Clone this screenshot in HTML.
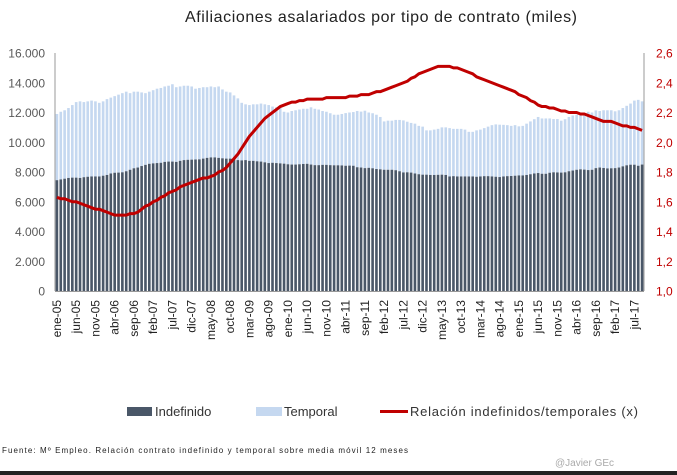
<!DOCTYPE html>
<html><head><meta charset="utf-8"><style>
html,body{margin:0;padding:0;background:#fff;}
svg{display:block;font-family:"Liberation Sans",sans-serif;}
</style></head><body>
<svg id="chart" width="677" height="475" viewBox="0 0 677 475">
<text x="381" y="22" text-anchor="middle" font-size="16" fill="#222" textLength="392">Afiliaciones asalariados por tipo de contrato (miles)</text>
<g id="bars"></g>
<g id="axes"></g>
<g id="line"></g>
<g>
<rect x="127" y="407" width="25" height="9" fill="#4a5768"/>
<text x="155" y="416" font-size="13" fill="#333">Indefinido</text>
<rect x="256" y="407" width="26" height="9" fill="#c5d8f0"/>
<text x="284" y="416" font-size="13" fill="#333">Temporal</text>
<line x1="380" y1="411.5" x2="408" y2="411.5" stroke="#c00000" stroke-width="3"/>
<text x="410" y="416" font-size="13" fill="#333" textLength="228">Relación indefinidos/temporales (x)</text>
</g>
<text x="2" y="453" font-size="8" fill="#222" textLength="406">Fuente:  Mº Empleo. Relación contrato indefinido  y temporal  sobre media móvil 12 meses</text>
<text x="555" y="466" font-size="10" fill="#aaa">@Javier GEc</text>
<rect x="0" y="471" width="677" height="4" fill="#222"/>
</svg>
<script>
const startYear = 2005;
const monthNames = ["ene","feb","mar","abr","may","jun","jul","ago","sep","oct","nov","dic"];
const indefinido = [
7450,7500,7550,7600,7620, 7620,7600,7650,7680,7700, 7700,7700,7750,7800,7900, 7950,7960,7980,8050,8150,
8250,8300,8400,8480,8550, 8580,8600,8620,8680,8700, 8700,8680,8750,8800,8820, 8830,8840,8850,8900,8950,
8980,8980,8950,8920,8900, 8900,8850,8800,8780,8800, 8750,8750,8720,8700,8650, 8600,8620,8600,8580,8560,
8520,8500,8500,8520,8540, 8550,8500,8460,8460,8480, 8480,8460,8450,8450,8440, 8420,8430,8420,8320,8300,
8260,8280,8250,8200,8180, 8150,8150,8150,8120,8050, 7970,7980,7960,7900,7850, 7820,7820,7800,7800,7810,
7820,7800,7700,7720,7700, 7700,7700,7700,7700,7680, 7700,7720,7720,7700,7680, 7660,7700,7720,7730,7750,
7770,7770,7800,7850,7900, 7930,7880,7880,7950,7980, 7970,7960,7980,8050,8100, 8150,8180,8160,8130,8150,
8260,8300,8270,8240,8250, 8260,8300,8380,8450,8490, 8490,8420,8500];
const total = [
11900,12050,12150,12300,12500, 12700,12750,12700,12750,12800, 12750,12650,12750,12900,13000, 13100,13200,13300,13400,13300,
13400,13400,13350,13300,13400, 13500,13600,13650,13750,13800, 13900,13700,13750,13800,13800, 13750,13600,13650,13700,13700,
13750,13700,13750,13550,13400, 13350,13150,12950,12650,12550, 12500,12550,12550,12600,12550, 12500,12400,12350,12300,12050,
12000,12100,12150,12200,12250, 12250,12350,12250,12200,12100, 12050,11950,11850,11850,11900, 11960,12000,12030,12100,12060,
12120,12000,11950,11850,11700, 11400,11450,11450,11500,11500, 11470,11380,11300,11250,11100, 11050,10800,10800,10850,10900,
11000,11000,10950,10900,10900, 10900,10850,10700,10700,10800, 10850,10950,11050,11150,11200, 11180,11170,11150,11100,11150,
11070,11100,11250,11400,11550, 11700,11600,11600,11600,11560, 11560,11450,11550,11700,11800, 11850,11950,11950,12050,12000,
12140,12100,12150,12150,12150, 12080,12150,12300,12450,12600, 12800,12850,12750];
const ratio = [
1.63,1.62,1.62,1.61,1.60, 1.60,1.59,1.58,1.57,1.56, 1.55,1.55,1.54,1.53,1.52, 1.51,1.51,1.51,1.51,1.52,
1.52,1.53,1.55,1.57,1.58, 1.60,1.61,1.63,1.64,1.66, 1.67,1.68,1.70,1.71,1.72, 1.73,1.74,1.75,1.76,1.76,
1.77,1.78,1.80,1.81,1.83, 1.86,1.89,1.92,1.96,2.00, 2.04,2.07,2.10,2.13,2.16, 2.18,2.20,2.22,2.24,2.25,
2.26,2.27,2.27,2.28,2.28, 2.29,2.29,2.29,2.29,2.29, 2.30,2.30,2.30,2.30,2.30, 2.30,2.31,2.31,2.31,2.32,
2.32,2.32,2.33,2.34,2.34, 2.35,2.36,2.37,2.38,2.39, 2.40,2.41,2.43,2.44,2.46, 2.47,2.48,2.49,2.50,2.51,
2.51,2.51,2.51,2.50,2.50, 2.49,2.48,2.47,2.46,2.44, 2.43,2.42,2.41,2.40,2.39, 2.38,2.37,2.36,2.35,2.34,
2.32,2.31,2.30,2.28,2.27, 2.25,2.24,2.24,2.23,2.23, 2.22,2.21,2.21,2.20,2.20, 2.20,2.19,2.19,2.18,2.17,
2.16,2.15,2.14,2.14,2.14, 2.13,2.12,2.11,2.11,2.10, 2.10,2.09,2.08];
const leftTicks = [0,2000,4000,6000,8000,10000,12000,14000,16000];
const leftTickLabels = ["0","2.000","4.000","6.000","8.000","10.000","12.000","14.000","16.000"];
const rightTicks = [1.0,1.2,1.4,1.6,1.8,2.0,2.2,2.4,2.6];
const rightTickLabels = ["1,0","1,2","1,4","1,6","1,8","2,0","2,2","2,4","2,6"];

const NS = "http://www.w3.org/2000/svg";
const X0 = 55, X1 = 644, Y0 = 291, YT = 53;
const n = indefinido.length;
const slot = (X1 - X0) / n;
function xc(i){ return X0 + slot * (i + 0.5); }
function yL(v){ return Y0 - (v / 16000) * (Y0 - YT); }
function yR(v){ return Y0 - ((v - 1.0) / 1.6) * (Y0 - YT); }
function mk(tag, attrs, parent){
  const e = document.createElementNS(NS, tag);
  for (const k in attrs) e.setAttribute(k, attrs[k]);
  parent.appendChild(e); return e;
}
const bars = document.getElementById("bars");
const axes = document.getElementById("axes");
const lineG = document.getElementById("line");
const bw = slot * 0.68;
for (let i = 0; i < n; i++) {
  const t = mk("rect", {x: xc(i) - bw/2, y: yL(total[i]), width: bw, height: yL(indefinido[i]) - yL(total[i]), fill: "#c5d8f0"}, bars);
  
  
  const d = mk("rect", {x: xc(i) - bw/2, y: yL(indefinido[i]), width: bw, height: Y0 - yL(indefinido[i]), fill: "#4a5768"}, bars);
  
  
}
// axes lines
let a = mk("line", {x1: X0, y1: YT, x2: X0, y2: Y0, stroke: "#999", "stroke-width": 1}, axes);


a = mk("line", {x1: X1, y1: YT, x2: X1, y2: Y0, stroke: "#999", "stroke-width": 1}, axes);


a = mk("line", {x1: X0, y1: Y0 + 0.5, x2: X1, y2: Y0 + 0.5, stroke: "#999", "stroke-width": 1}, axes);


leftTicks.forEach((v, k) => {
  const t = mk("text", {x: 45, y: yL(v) + 4.5, "text-anchor": "end", "font-size": 12, fill: "#595959"}, axes);
  t.textContent = leftTickLabels[k];
  
  
});
rightTicks.forEach((v, k) => {
  const t = mk("text", {x: 656, y: yR(v) + 4.5, "font-size": 12, fill: "#c00000"}, axes);
  t.textContent = rightTickLabels[k];
  
  
});
for (let i = 0; i < n; i += 5) {
  const y = startYear + Math.floor(i / 12);
  const lbl = monthNames[i % 12] + "-" + String(y % 100).padStart(2, "0");
  const x = xc(i) + 4;
  const t = mk("text", {x: x, y: 300, "text-anchor": "end", "font-size": 12, fill: "#222", transform: "rotate(-90 " + x + " 300)"}, axes);
  t.textContent = lbl;
  
  
}
const pts = ratio.map((v, i) => xc(i).toFixed(2) + "," + yR(v).toFixed(2)).join(" ");
const pl = mk("polyline", {points: pts, fill: "none", stroke: "#c00000", "stroke-width": 3, "stroke-linejoin": "round"}, lineG);


</script>
</body></html>
